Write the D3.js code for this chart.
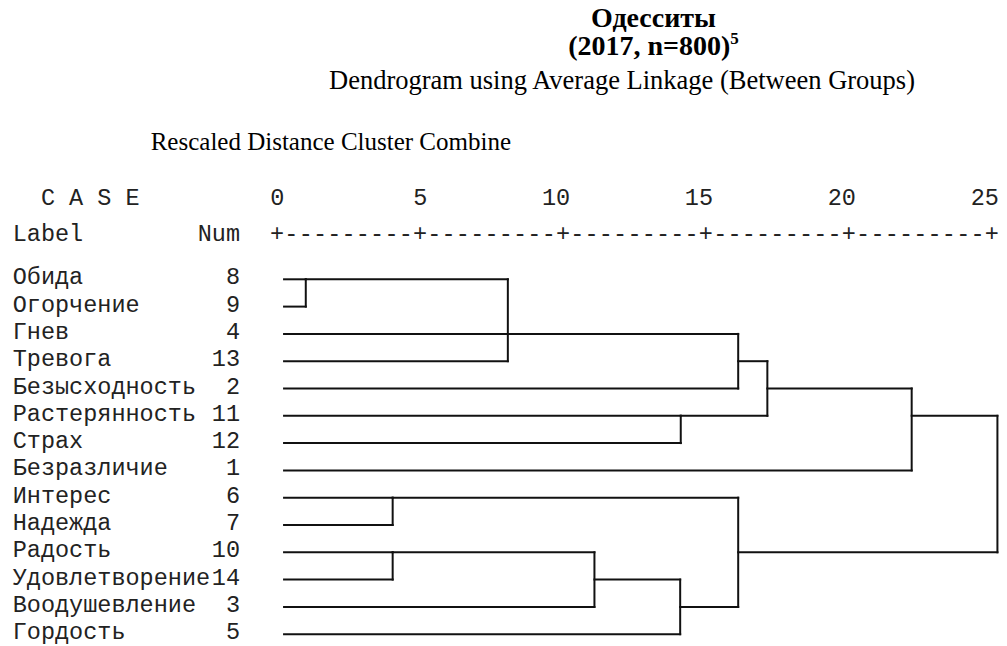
<!DOCTYPE html>
<html>
<head>
<meta charset="utf-8">
<script src="https://cdn.jsdelivr.net/npm/d3@7"></script>
<style>
  body { margin: 0; background: #fff; }
  text { white-space: pre; }
</style>
</head>
<body>
<svg width="1007" height="646"></svg>
<script>
// cases in dendrogram order
var caseLabels = ["Обида", "Огорчение", "Гнев", "Тревога", "Безысходность", "Растерянность",
  "Страх", "Безразличие", "Интерес", "Надежда", "Радость", "Удовлетворение", "Воодушевление", "Гордость"];
var caseNums = [8, 9, 4, 13, 2, 11, 12, 1, 6, 7, 10, 14, 3, 5];
var axisTicks = [0, 5, 10, 15, 20, 25];

// merges: children ("L" = leaf row, "M" = earlier merge), rescaled distance, row the result leaves on
var mergeChildren = [["L0", "L1"], ["M0", "L2", "L3"], ["M1", "L4"], ["L5", "L6"], ["M2", "M3"],
  ["M4", "L7"], ["L8", "L9"], ["L10", "L11"], ["M7", "L12"], ["M8", "L13"], ["M6", "M9"], ["M5", "M10"]];
var mergeDistance = [1.0, 8.07, 16.13, 14.12, 17.15, 22.2, 4.04, 4.04, 11.1, 14.1, 16.13, 25.2];
var mergeOutRow = [0, 2, 3, 5, 4, 5, 8, 10, 11, 12, 10, null];
var leafStart = 0.24;

var svg = d3.select("svg");
var mono = "'Liberation Mono', 'Courier New', monospace",
    serif = "'Liberation Serif', 'Times New Roman', serif";

var x = d3.scaleLinear().domain([0, 25]).range([277.2, 991.7]);
var y = d3.scaleLinear().domain([0, 13]).range([279.3, 634.2]);
var charW = (x(5) - x(0)) / 10;

// titles
svg.append("text")
    .attr("x", 653.5).attr("y", 27)
    .attr("text-anchor", "middle")
    .attr("font-family", serif).attr("font-weight", "bold").attr("font-size", 28)
    .text("Одесситы");

var t2 = svg.append("text")
    .attr("x", 653.5).attr("y", 55)
    .attr("text-anchor", "middle")
    .attr("font-family", serif).attr("font-weight", "bold").attr("font-size", 28);
t2.append("tspan").text("(2017, n=800)");
t2.append("tspan").attr("font-size", 17).attr("dy", -11).text("5");

svg.append("text")
    .attr("x", 329).attr("y", 89)
    .attr("font-family", serif).attr("font-size", 26.5)
    .text("Dendrogram using Average Linkage (Between Groups)");

svg.append("text")
    .attr("x", 150.7).attr("y", 150)
    .attr("font-family", serif).attr("font-size", 25)
    .text("Rescaled Distance Cluster Combine");

// header
var head = svg.append("g")
    .attr("font-family", mono).attr("font-size", 23.5).attr("fill", "#222");

head.append("text").attr("x", 12.7).attr("y", 205).text("  C A S E");
head.append("text").attr("x", 12.7).attr("y", 241).text("Label");
head.append("text").attr("x", 240).attr("y", 241).attr("text-anchor", "end").text("Num");

head.selectAll(".tick")
  .data(axisTicks)
  .enter().append("text")
    .attr("class", "tick")
    .attr("x", function(d) { return x(d) + charW / 2; })
    .attr("y", 205)
    .attr("text-anchor", "end")
    .text(function(d) { return d; });

var rule = "+";
for (var i = 1; i < axisTicks.length; i++) rule += "---------+";
head.append("text")
    .attr("x", x(0) - charW / 2).attr("y", 241)
    .attr("textLength", x(25) - x(0) + charW)
    .attr("lengthAdjust", "spacing")
    .text(rule);

// case rows
var rows = svg.append("g")
    .attr("font-family", mono).attr("font-size", 23.5).attr("fill", "#222");

rows.selectAll(".label")
  .data(caseLabels)
  .enter().append("text")
    .attr("class", "label")
    .attr("x", 12.7)
    .attr("y", function(d, i) { return y(i) + 5; })
    .text(function(d) { return d; });

rows.selectAll(".num")
  .data(caseNums)
  .enter().append("text")
    .attr("class", "num")
    .attr("x", 240)
    .attr("y", function(d, i) { return y(i) + 5; })
    .attr("text-anchor", "end")
    .text(function(d) { return d; });

// dendrogram links
function nodeOf(id) {
  var k = +id.slice(1);
  if (id[0] == "L") return { row: k, dist: leafStart };
  return { row: mergeOutRow[k], dist: mergeDistance[k] };
}

var segs = [];
mergeChildren.forEach(function(ch, m) {
  var xm = x(mergeDistance[m]);
  var rs = ch.map(function(id) {
    var n = nodeOf(id);
    segs.push([x(n.dist), y(n.row), xm, y(n.row)]);
    return n.row;
  });
  segs.push([xm, y(d3.min(rs)), xm, y(d3.max(rs))]);
});

svg.append("g")
    .attr("stroke", "#111")
    .attr("stroke-width", 2)
    .attr("stroke-linecap", "square")
  .selectAll("line")
  .data(segs)
  .enter().append("line")
    .attr("x1", function(d) { return d[0]; })
    .attr("y1", function(d) { return d[1]; })
    .attr("x2", function(d) { return d[2]; })
    .attr("y2", function(d) { return d[3]; });
</script>
</body>
</html>
